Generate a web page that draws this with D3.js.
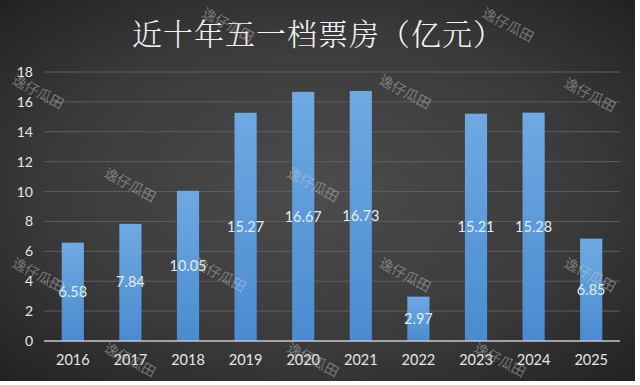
<!DOCTYPE html>
<html><head><meta charset="utf-8">
<script src="https://cdn.jsdelivr.net/npm/d3@7/dist/d3.min.js"></script>
<style>html,body{margin:0;padding:0;background:#fff;}svg{display:block;}</style>
</head><body>
<script>
const title = "近十年五一档票房（亿元）";
const years = ["2016","2017","2018","2019","2020","2021","2022","2023","2024","2025"];
const boxOffice = [6.58,7.84,10.05,15.27,16.67,16.73,2.97,15.21,15.28,6.85];
const yTicks = [0,2,4,6,8,10,12,14,16,18];
const watermarkText = "逸仔瓜田";
const watermarks = [[38,92],[130,185],[220,275],[313,185],[405,92],[590,95],[38,275],[405,275],[590,275],[130,360],[313,360],[500,360],[228,25],[508,25]];

const W = 640, H = 385;
const svg = d3.select("body").append("svg").attr("width", W).attr("height", H);
const defs = svg.append("defs");
const rg = defs.append("radialGradient").attr("id","bg").attr("cx","50%").attr("cy","50%").attr("r","70%");
rg.append("stop").attr("offset","0%").attr("stop-color","#4c4c4c");
rg.append("stop").attr("offset","60%").attr("stop-color","#3a3a3a");
rg.append("stop").attr("offset","100%").attr("stop-color","#222");
const bg = defs.append("linearGradient").attr("id","bar").attr("x1",0).attr("y1",0).attr("x2",0).attr("y2",1);
bg.append("stop").attr("offset","0%").attr("stop-color","#6ea9e2");
bg.append("stop").attr("offset","100%").attr("stop-color","#4a8bd0");

svg.append("rect").attr("width",W).attr("height",H).attr("fill","#fff");
svg.append("rect").attr("width",635).attr("height",381).attr("fill","url(#bg)");

const x = d3.scaleBand().domain(years).range([44, 620]).paddingInner(0.615).paddingOuter(0.3075);
const y = d3.scaleLinear().domain([0,18]).range([341, 72]);

// gridlines
svg.append("g").selectAll("line").data(yTicks.filter(d=>d>0)).join("line")
  .attr("x1",44).attr("x2",620).attr("y1",d=>y(d)).attr("y2",d=>y(d))
  .attr("stroke","#5e5e5e").attr("stroke-width",1);

// bars
svg.append("g").selectAll("rect").data(boxOffice).join("rect")
  .attr("x",(d,i)=>x(years[i])).attr("width",x.bandwidth())
  .attr("y",d=>y(d)).attr("height",d=>y(0)-y(d)).attr("fill","url(#bar)");

// axis baseline
svg.append("line").attr("x1",44).attr("x2",620).attr("y1",y(0)).attr("y2",y(0)).attr("stroke","#c8c8c8").attr("stroke-width",1.5);

// y axis
const ya = svg.append("g").attr("transform","translate(33,0)").call(d3.axisLeft(y).tickValues(yTicks).tickSize(0).tickPadding(0));
ya.select(".domain").remove();
ya.selectAll("text").attr("fill","#e6e6e6").attr("font-family","Lato, 'Open Sans', sans-serif").attr("font-size","14px");

// x axis
const xa = svg.append("g").attr("transform",`translate(0,${y(0)})`).call(d3.axisBottom(x).tickSize(0).tickPadding(14));
xa.select(".domain").remove();
xa.selectAll("text").attr("fill","#e6e6e6").attr("font-family","Lato, 'Open Sans', sans-serif").attr("font-size","14.5px");

// value labels
svg.append("g").selectAll("text").data(boxOffice).join("text")
  .attr("x",(d,i)=>x(years[i])+x.bandwidth()/2).attr("y",d=>(y(d)+y(0))/2)
  .attr("dy","0.35em").attr("text-anchor","middle")
  .attr("fill","#e3eefb").attr("font-family","Lato, 'Open Sans', sans-serif").attr("font-size","14.5px")
  .text(d=>d.toFixed(2));

// title
svg.append("text").attr("x",318).attr("y",45).attr("text-anchor","middle")
  .attr("fill","#f4f4f4").attr("font-family","'Noto Serif CJK SC','Noto Sans CJK SC',serif").attr("font-weight",300)
  .attr("font-size","30px").attr("letter-spacing","1px").text(title);

// watermarks
svg.append("g").selectAll("text").data(watermarks).join("text")
  .attr("transform",d=>`translate(${d[0]},${d[1]}) rotate(28)`)
  .attr("text-anchor","middle").attr("dy","0.35em")
  .attr("fill","#d0d0d0").attr("fill-opacity",0.45)
  .attr("font-family","'Noto Sans CJK SC',sans-serif").attr("font-size","14px")
  .text(watermarkText);
</script>
</body></html>
